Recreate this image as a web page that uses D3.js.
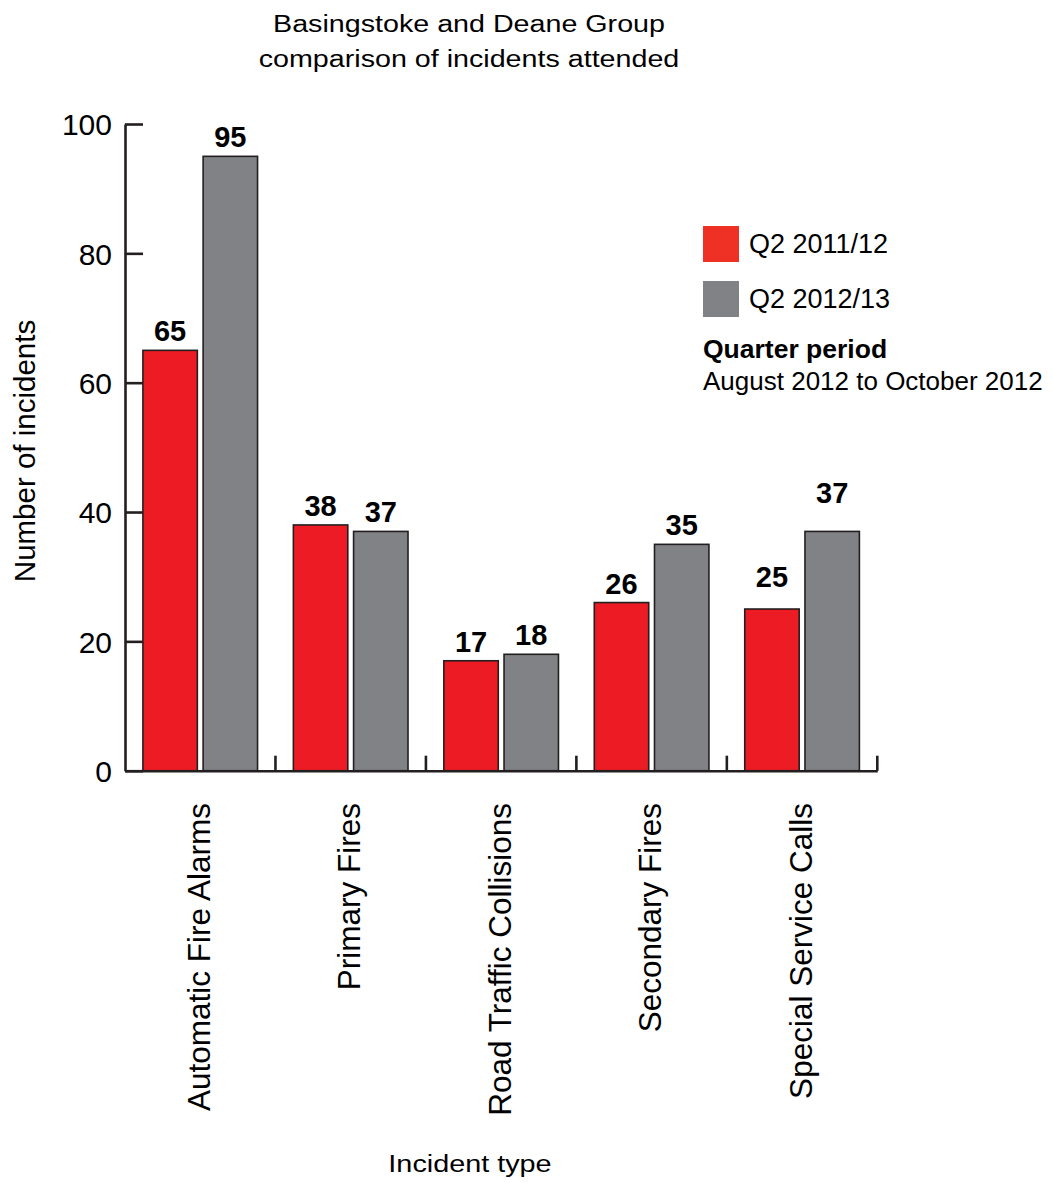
<!DOCTYPE html>
<html>
<head>
<meta charset="utf-8">
<script src="https://cdn.jsdelivr.net/npm/d3@7"></script>
<style>
  body { margin: 0; background: #fff; }
  text { font-family: "Liberation Sans", Arial, Helvetica, sans-serif; fill: #000; }
  .axis path, .axis line { stroke: #231f20; stroke-width: 2.6; }
</style>
</head>
<body>
<div id="chart"></div>
<script>
// data
const categories = ['Automatic Fire Alarms','Primary Fires','Road Traffic Collisions','Secondary Fires','Special Service Calls'];
const seriesNames = ['Q2 2011/12','Q2 2012/13'];
const q2_2011_12 = [65, 38, 17, 26, 25];
const q2_2012_13 = [95, 37, 18, 35, 37];
const yTicks = [0, 20, 40, 60, 80, 100];
const titleLines = ['Basingstoke and Deane Group','comparison of incidents attended'];
const periodTitle = 'Quarter period';
const periodText = 'August 2012 to October 2012';

const barColors = ['#ed1c24', '#808285'];
const legendColors = ['#ee3124', '#808285'];

const W = 1053, H = 1183;
const svg = d3.select('#chart').append('svg')
  .attr('width', W).attr('height', H);

const x = d3.scaleBand().domain(categories).range([125, 877.3]);
const xSub = d3.scaleBand().domain(seriesNames)
  .range([0, x.bandwidth()])
  .paddingInner(0.096).paddingOuter(0.2975);
const y = d3.scaleLinear().domain([0, 100]).range([770.7, 124]);

const table = categories.map((c, i) => ({
  cat: c,
  vals: [
    {s: seriesNames[0], v: q2_2011_12[i], k: 0},
    {s: seriesNames[1], v: q2_2012_13[i], k: 1}
  ]
}));

// title
svg.selectAll('text.title').data(titleLines).enter()
  .append('text').attr('class', 'title')
  .attr('text-anchor', 'middle')
  .attr('font-size', 24.5)
  .attr('transform', (d, i) => 'translate(469,' + (32 + i * 35) + ') scale(1.17,1)')
  .text(d => d);

// bars
const groups = svg.selectAll('g.cat').data(table).enter()
  .append('g').attr('class', 'cat')
  .attr('transform', d => 'translate(' + x(d.cat) + ',0)');

groups.selectAll('rect').data(d => d.vals).enter()
  .append('rect')
  .attr('x', d => xSub(d.s))
  .attr('width', xSub.bandwidth())
  .attr('y', d => y(d.v))
  .attr('height', d => y(0) - y(d.v))
  .attr('fill', d => barColors[d.k])
  .attr('stroke', '#231f20')
  .attr('stroke-width', 1.6);

// value labels (the last group sits a bit higher in the original)
const extraLift = {'Special Service Calls': [13, 19]};
groups.selectAll('text.val').data(d => d.vals.map(v => Object.assign({cat: d.cat}, v))).enter()
  .append('text').attr('class', 'val')
  .attr('text-anchor', 'middle')
  .attr('font-size', 29).attr('font-weight', 'bold')
  .attr('x', d => xSub(d.s) + xSub.bandwidth() / 2)
  .attr('y', d => y(d.v) - 9 - (extraLift[d.cat] ? extraLift[d.cat][d.k] : 0))
  .text(d => d.v);

// y axis, ticks pointing inward
const yAxis = d3.axisLeft(y).tickValues(yTicks).tickSize(-18).tickSizeOuter(0).tickPadding(13);
const yG = svg.append('g').attr('class', 'axis').attr('transform', 'translate(125,0)').call(yAxis);
yG.selectAll('text').attr('font-size', 30).attr('dy', '0.36em').style('font-family', '"Liberation Sans", Arial, sans-serif');

// x axis line with upward ticks at band edges
const xAxis = d3.axisBottom(x).tickSize(0).tickSizeOuter(0).tickFormat('');
const xG = svg.append('g').attr('class', 'axis').attr('transform', 'translate(0,' + y(0) + ')').call(xAxis);
xG.selectAll('.tick').remove();
xG.selectAll('line.edge').data(categories.slice(1).map(c => x(c)).concat([x.range()[1]])).enter()
  .append('line').attr('class', 'edge')
  .attr('x1', d => d).attr('x2', d => d)
  .attr('y1', 0).attr('y2', -15);

// category labels
svg.selectAll('text.cat').data(categories).enter()
  .append('text').attr('class', 'cat')
  .attr('text-anchor', 'end')
  .attr('font-size', 31.5)
  .attr('dy', '0.3em')
  .attr('transform', d => 'translate(' + (x(d) + x.bandwidth() / 2) + ',803) rotate(-90)')
  .text(d => d);

// axis titles
svg.append('text')
  .attr('text-anchor', 'middle').attr('font-size', 29.5)
  .attr('transform', 'translate(35,451) rotate(-90)')
  .text('Number of incidents');

svg.append('text')
  .attr('text-anchor', 'middle').attr('font-size', 24)
  .attr('transform', 'translate(470,1172) scale(1.2,1)')
  .text('Incident type');

// legend
const legend = svg.append('g').attr('transform', 'translate(703,226)');
legend.selectAll('rect').data(seriesNames).enter()
  .append('rect')
  .attr('x', 0).attr('y', (d, i) => i * 55)
  .attr('width', 36).attr('height', 36)
  .attr('fill', (d, i) => legendColors[i]);
legend.selectAll('text.key').data(seriesNames).enter()
  .append('text').attr('class', 'key')
  .attr('x', 46).attr('y', (d, i) => i * 55 + 27)
  .attr('font-size', 27)
  .text(d => d);
legend.append('text')
  .attr('x', 0).attr('y', 132)
  .attr('font-size', 26.5).attr('font-weight', 'bold')
  .text(periodTitle);
legend.append('text')
  .attr('x', 0).attr('y', 164)
  .attr('font-size', 26)
  .text(periodText);
</script>
</body>
</html>
